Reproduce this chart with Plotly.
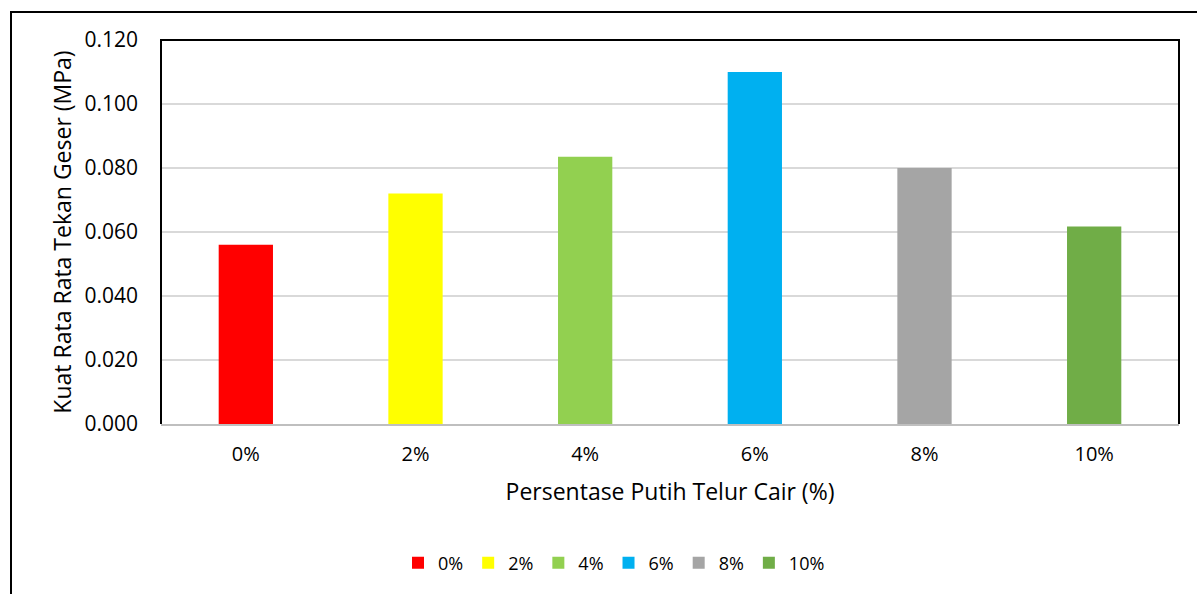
import plotly.graph_objects as go

categories = ["0%", "2%", "4%", "6%", "8%", "10%"]
values = [0.056, 0.072, 0.0835, 0.110, 0.080, 0.0617]
colors = ["#FF0000", "#FFFF00", "#92D050", "#00B0F0", "#A5A5A5", "#70AD47"]
yticks = [0.0, 0.02, 0.04, 0.06, 0.08, 0.10, 0.12]

FONT = "Open Sans"

fig = go.Figure()
for c, v, col in zip(categories, values, colors):
    fig.add_trace(go.Bar(x=[c], y=[v], name=c, marker=dict(color=col, line=dict(width=0)),
                         width=0.32))

W, H = 1197, 594
L, R, T, B = 161, 18, 40, 170
pw, ph = W - L - R, H - T - B

def px(x):
    return (x - L) / pw

def py(y):
    return (H - B - y) / ph

fig.update_layout(
    width=W, height=H,
    margin=dict(l=L, r=R, t=T, b=B),
    paper_bgcolor="white", plot_bgcolor="white",
    barmode="overlay",
    font=dict(family=FONT, size=20, color="black"),
    showlegend=True,
    legend=dict(orientation="h", x=px(614), xanchor="center", y=py(563), yanchor="middle",
                font=dict(family=FONT, size=18), itemwidth=30, tracegroupgap=0,
                traceorder="normal"),
    xaxis=dict(categoryorder="array", categoryarray=categories, showgrid=False,
               showline=True, linecolor="#BFBFBF", linewidth=2, ticks="",
               ticklabelstandoff=11, tickfont=dict(size=20),
               title=dict(text="Persentase Putih Telur Cair (%)", font=dict(family=FONT, size=23),
                          standoff=18)),
    yaxis=dict(range=[0, 0.12], tickvals=yticks, ticktext=[f"{t:.3f}" for t in yticks],
               showgrid=True, gridcolor="#D9D9D9", gridwidth=1.5, zeroline=False,
               showline=False, ticks="", ticklabelstandoff=22, tickfont=dict(size=21),
               title=dict(text="Kuat Rata Rata Tekan Geser (MPa)", font=dict(family=FONT, size=23),
                          standoff=6)),
    shapes=[
        dict(type="path", xref="paper", yref="paper",
             path=f"M 0 0 L 0 1 L 1 1 L 1 0", line=dict(color="black", width=2)),
        dict(type="path", xref="paper", yref="paper",
             path=f"M {px(11)} {py(600)} L {px(11)} {py(12)} L {px(1205)} {py(12)}",
             line=dict(color="black", width=2)),
    ],
)

fig.write_html("out.html")
